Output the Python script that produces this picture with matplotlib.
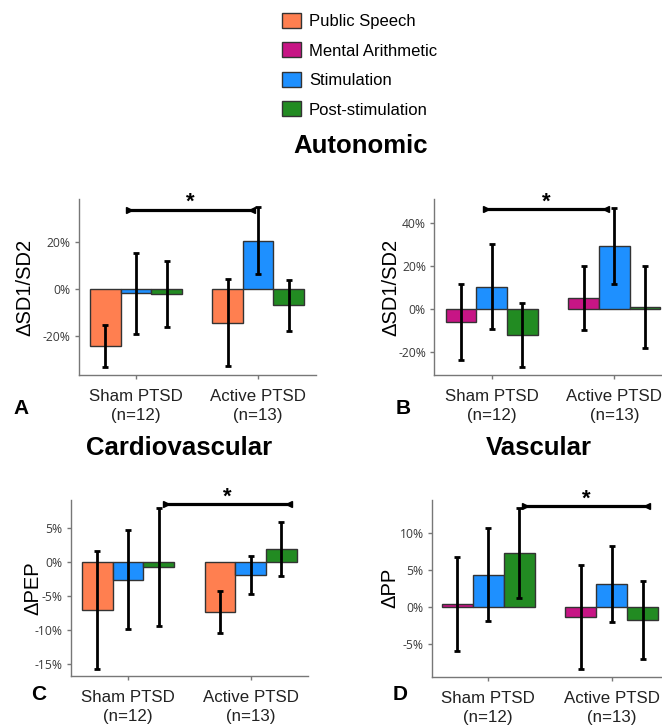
import numpy as np
import matplotlib.pyplot as plt
from matplotlib.patches import Patch

plt.rcParams['font.family'] = ['Liberation Sans', 'DejaVu Sans']

# conditions / colours
conds = ['Public Speech', 'Mental Arithmetic', 'Stimulation', 'Post-stimulation']
cols = ['#FF7F50', '#C71585', '#1E90FF', '#228B22']
groups = ['Sham PTSD\n(n=12)', 'Active PTSD\n(n=13)']

# panel A: dSD1/SD2 (Public Speech, Stimulation, Post-stimulation)
A_sham = [-24.5, -1.8, -2.1]
A_sham_err = [9.0, 17.4, 14.0]
A_act = [-14.4, 20.7, -7.0]
A_act_err = [18.6, 14.3, 11.0]

# panel B: dSD1/SD2 (Mental Arithmetic, Stimulation, Post-stimulation)
B_sham = [-6.0, 10.5, -12.1]
B_sham_err = [17.7, 19.7, 15.1]
B_act = [5.2, 29.5, 0.8]
B_act_err = [15.0, 17.9, 19.2]

# panel C: dPEP (Public Speech, Stimulation, Post-stimulation)
C_sham = [-7.0, -2.55, -0.7]
C_sham_err = [8.7, 7.25, 8.7]
C_act = [-7.4, -1.9, 1.95]
C_act_err = [3.1, 2.85, 3.95]

# panel D: dPP (Mental Arithmetic, Stimulation, Post-stimulation)
D_sham = [0.35, 4.35, 7.3]
D_sham_err = [6.35, 6.35, 6.15]
D_act = [-1.4, 3.1, -1.8]
D_act_err = [7.05, 5.2, 5.3]

W, H = 662, 725
fig = plt.figure(figsize=(W/100, H/100), dpi=100)

def px_axes(l, r, t, b):
    return fig.add_axes([l/W, 1-b/H, (r-l)/W, (b-t)/H])

def panel(ax, sham, sham_e, act, act_e, cidx, ylab, ylim, xlim, yticks,
          br_x, br_y, letter, letter_xy, ylab_x):
    w = 0.25
    for k in range(3):
        c = cols[cidx[k]]
        xs = np.array([0, 1]) + (k-1)*w
        vals = [sham[k], act[k]]
        errs = [sham_e[k], act_e[k]]
        ax.bar(xs, vals, width=w, color=c, edgecolor='#333333', linewidth=1, zorder=2)
        ax.errorbar(xs, vals, yerr=errs, fmt='none', ecolor='black',
                    elinewidth=2, capsize=2.3, capthick=2, zorder=3)
    ax.set_xlim(*xlim)
    ax.set_ylim(*ylim)
    ax.set_xticks([0, 1])
    ax.set_xticklabels(groups, fontsize=12.2, color='#222222', linespacing=1.35)
    ax.set_yticks(yticks)
    ax.set_yticklabels(['%d%%' % v for v in yticks], fontsize=8.7,
                       color='#3a3a3a', family=['Open Sans', 'DejaVu Sans'])
    for s in ['top', 'right']:
        ax.spines[s].set_visible(False)
    for s in ['left', 'bottom']:
        ax.spines[s].set_color('#777777')
        ax.spines[s].set_linewidth(1.0)
    ax.tick_params(axis='y', length=3, width=1, color='#777777', pad=3)
    ax.tick_params(axis='x', length=3, width=1, color='#777777', pad=7)
    ax.set_ylabel(ylab, fontsize=14.5)
    ax.yaxis.set_label_coords(ylab_x, 0.5)
    # significance bracket
    ax.plot(br_x, [br_y, br_y], color='black', lw=2.3, zorder=4, clip_on=False)
    ax.plot([br_x[0]], [br_y], marker='>', color='black', ms=5, clip_on=False, zorder=4)
    ax.plot([br_x[1]], [br_y], marker='<', color='black', ms=5, clip_on=False, zorder=4)
    ax.annotate('*', xy=(np.mean(br_x), br_y), xytext=(0, 1), textcoords='offset points',
                ha='center', va='baseline', fontsize=16, fontweight='bold',
                annotation_clip=False)
    fig.text(letter_xy[0]/W, 1-letter_xy[1]/H, letter, fontsize=15, fontweight='bold',
             ha='center', va='center')

axA = px_axes(79, 316, 199, 375)
panel(axA, A_sham, A_sham_err, A_act, A_act_err, [0, 2, 3], 'ΔSD1/SD2',
      (-36.8, 38.5), (-0.467, 1.475), [-20, 0, 20], (-0.06, 0.95), 34,
      'A', (21.5, 408), -0.19)

axB = px_axes(434.3, 662, 199, 375)
panel(axB, B_sham, B_sham_err, B_act, B_act_err, [1, 2, 3], 'ΔSD1/SD2',
      (-30.8, 51.4), (-0.468, 1.389), [-20, 0, 20, 40], (-0.046, 0.93), 46.6,
      'B', (403.5, 408), -0.15)

axC = px_axes(71, 308.3, 500, 676)
panel(axC, C_sham, C_sham_err, C_act, C_act_err, [0, 2, 3], 'ΔPEP',
      (-16.8, 9.2), (-0.465, 1.47), [-15, -10, -5, 0, 5], (0.31, 1.31), 8.6,
      'C', (39, 695), -0.12)

axD = px_axes(432, 662, 500, 676.7)
panel(axD, D_sham, D_sham_err, D_act, D_act_err, [1, 2, 3], 'ΔPP',
      (-9.5, 14.5), (-0.456, 1.408), [-5, 0, 5, 10], (0.30, 1.29), 13.7,
      'D', (400.5, 695), -0.14)

# section titles
fig.text(360.5/W, 1-146/H, 'Autonomic', fontsize=18.5, fontweight='bold', ha='center', va='center')
fig.text(179/W, 1-448/H, 'Cardiovascular', fontsize=18.5, fontweight='bold', ha='center', va='center')
fig.text(539/W, 1-448/H, 'Vascular', fontsize=18.5, fontweight='bold', ha='center', va='center')

# legend
handles = [Patch(facecolor=c, edgecolor='#333333', linewidth=1) for c in cols]
fig.legend(handles, conds, loc='upper left', bbox_to_anchor=(282.3/W, 1-13/H),
           frameon=False, fontsize=12, handlelength=1.1, handleheight=1.0,
           handletextpad=0.5, labelspacing=0.8, borderpad=0, borderaxespad=0)

fig.savefig('out.png', dpi=100)
